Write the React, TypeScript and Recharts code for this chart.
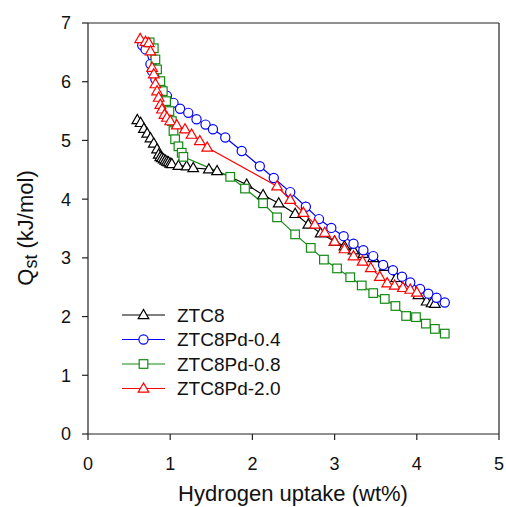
import { LineChart, Line, XAxis, YAxis, ReferenceLine, Legend } from "recharts";

const xTicks = [0, 1, 2, 3, 4, 5];
const yTicks = [0, 1, 2, 3, 4, 5, 6, 7];

const ztc8X = [0.6, 0.64, 0.68, 0.72, 0.76, 0.8, 0.84, 0.86, 0.88, 0.9, 0.92, 0.94, 0.96, 0.98, 1.0, 1.02, 1.1, 1.2, 1.28, 1.47, 1.57, 1.93, 2.13, 2.32, 2.52, 2.68, 2.83, 3.0, 3.12, 3.23, 3.35, 3.47, 3.61, 3.75, 3.88, 4.02, 4.12, 4.18, 4.22];
const ztc8Y = [5.35, 5.3, 5.2, 5.12, 5.04, 4.95, 4.85, 4.76, 4.72, 4.7, 4.68, 4.66, 4.64, 4.63, 4.61, 4.6, 4.57, 4.56, 4.53, 4.51, 4.48, 4.25, 4.07, 3.93, 3.75, 3.57, 3.42, 3.28, 3.2, 3.13, 3.07, 3.0, 2.85, 2.66, 2.51, 2.37, 2.26, 2.23, 2.22];

const pd04X = [0.66, 0.7, 0.76, 0.78, 0.82, 0.9, 0.96, 1.04, 1.12, 1.22, 1.32, 1.43, 1.52, 1.67, 1.87, 2.09, 2.26, 2.46, 2.65, 2.81, 2.96, 3.11, 3.23, 3.35, 3.47, 3.59, 3.71, 3.82, 3.92, 4.04, 4.14, 4.24, 4.34];
const pd04Y = [6.62, 6.55, 6.3, 6.18, 6.04, 5.87, 5.76, 5.64, 5.54, 5.47, 5.36, 5.27, 5.19, 5.05, 4.82, 4.56, 4.36, 4.12, 3.87, 3.66, 3.51, 3.37, 3.24, 3.13, 3.03, 2.88, 2.79, 2.68, 2.58, 2.47, 2.39, 2.32, 2.24];

const pd08X = [0.75, 0.8, 0.82, 0.84, 0.88, 0.91, 0.95, 0.99, 1.02, 1.04, 1.06, 1.1, 1.14, 1.16, 1.73, 1.91, 2.13, 2.3, 2.52, 2.71, 2.87, 3.03, 3.19, 3.33, 3.47, 3.61, 3.74, 3.87, 3.99, 4.11, 4.22, 4.34];
const pd08Y = [6.67, 6.57, 6.38, 6.21, 6.01, 5.84, 5.67, 5.5, 5.33, 5.16, 5.02, 4.9, 4.79, 4.72, 4.38, 4.18, 3.93, 3.69, 3.4, 3.17, 2.97, 2.82, 2.67, 2.53, 2.4, 2.3, 2.18, 2.01, 1.99, 1.88, 1.79, 1.71];

const pd20X = [0.635, 0.7, 0.74, 0.76, 0.78, 0.8, 0.82, 0.84, 0.86, 0.88, 0.9, 0.93, 0.96, 1.0, 1.08, 1.18, 1.26, 1.36, 1.45, 2.3, 2.46, 2.62, 2.76, 2.88, 3.0, 3.12, 3.23, 3.34, 3.44, 3.55, 3.64, 3.73, 3.83, 3.92, 4.0];
const pd20Y = [6.73, 6.68, 6.66, 6.52, 6.24, 6.13, 5.96, 5.84, 5.73, 5.61, 5.53, 5.44, 5.39, 5.33, 5.26, 5.19, 5.1, 4.99, 4.88, 4.22, 3.99, 3.77, 3.57, 3.43, 3.28, 3.15, 3.03, 2.94, 2.83, 2.68, 2.57, 2.53, 2.49, 2.46, 2.41];

const toPoints = (xs: number[], ys: number[]) => xs.map((x, i) => ({ x, y: ys[i] }));

type Shape = "triangle" | "circle" | "square";

const series: { name: string; color: string; shape: Shape; data: { x: number; y: number }[] }[] = [
  { name: "ZTC8", color: "#000000", shape: "triangle", data: toPoints(ztc8X, ztc8Y) },
  { name: "ZTC8Pd-0.4", color: "#0000ff", shape: "circle", data: toPoints(pd04X, pd04Y) },
  { name: "ZTC8Pd-0.8", color: "#138a13", shape: "square", data: toPoints(pd08X, pd08Y) },
  { name: "ZTC8Pd-2.0", color: "#ff0000", shape: "triangle", data: toPoints(pd20X, pd20Y) },
];

const FONT = "'Liberation Sans', Arial, sans-serif";
const AXIS = "#222";

function Marker({ cx, cy, shape, color }: { cx: number; cy: number; shape: Shape; color: string }) {
  if (shape === "circle") {
    return <circle cx={cx} cy={cy} r={4.6} fill="#fff" stroke={color} strokeWidth={1.2} />;
  }
  if (shape === "square") {
    return <rect x={cx - 4.3} y={cy - 4.3} width={8.6} height={8.6} fill="#fff" stroke={color} strokeWidth={1.2} />;
  }
  return (
    <polygon
      points={`${cx},${cy - 5.5} ${cx - 5.3},${cy + 3.7} ${cx + 5.3},${cy + 3.7}`}
      fill="#fff"
      stroke={color}
      strokeWidth={1.2}
    />
  );
}

const XTick = ({ x, payload }: any) => (
  <text x={x} y={470} textAnchor="middle" fontSize={18} fontFamily={FONT} fill="#111">
    {payload.value}
  </text>
);

const YTick = ({ y, payload }: any) => (
  <text x={71} y={y} dy={6.4} textAnchor="end" fontSize={18} fontFamily={FONT} fill="#111">
    {payload.value}
  </text>
);

const YLabel = () => (
  <text transform="rotate(-90, 33, 228)" x={33} y={228} textAnchor="middle" fontSize={22} fontFamily={FONT} fill="#111">
    <tspan>Q</tspan>
    <tspan fontSize={18} dy={4}>st</tspan>
    <tspan dy={-4}> (kJ/mol)</tspan>
  </text>
);

const XLabel = () => (
  <text x={293} y={501} textAnchor="middle" fontSize={22} fontFamily={FONT} fill="#111">
    Hydrogen uptake (wt%)
  </text>
);

const LegendBox = () => (
  <svg width={200} height={100} style={{ display: "block" }}>
    {series.map((s, i) => {
      const cy = 12 + i * 24.5;
      return (
        <g key={s.name}>
          <line x1={2} x2={45} y1={cy} y2={cy} stroke={s.color} strokeWidth={1.2} />
          <Marker cx={23.5} cy={cy} shape={s.shape} color={s.color} />
          <text x={57} y={cy + 6.5} fontSize={19} fontFamily={FONT} fill="#111">
            {s.name}
          </text>
        </g>
      );
    })}
  </svg>
);

export default function App() {
  return (
    <div style={{ position: "absolute", left: 0, top: 0, width: 506, height: 507, background: "#fff" }}>
      <LineChart width={506} height={507} margin={{ top: 23, right: 7, bottom: 0, left: 0 }}>
        <XAxis
          dataKey="x"
          type="number"
          domain={[0, 5]}
          ticks={xTicks}
          tickSize={6}
          stroke={AXIS}
          strokeWidth={1.2}
          height={73}
          tick={<XTick />}
          label={<XLabel />}
          allowDuplicatedCategory={false}
        />
        <YAxis
          dataKey="y"
          type="number"
          domain={[0, 7]}
          ticks={yTicks}
          tickSize={6}
          stroke={AXIS}
          strokeWidth={1.2}
          width={88}
          tick={<YTick />}
          label={<YLabel />}
        />
        <ReferenceLine y={7} stroke={AXIS} strokeWidth={1.2} />
        <ReferenceLine x={5} stroke={AXIS} strokeWidth={1.2} />
        {series.map((s) => (
          <Line
            key={s.name}
            data={s.data}
            dataKey="y"
            name={s.name}
            stroke={s.color}
            strokeWidth={1.2}
            isAnimationActive={false}
            dot={(p: any) => <Marker key={`${s.name}-${p.index}`} cx={p.cx} cy={p.cy} shape={s.shape} color={s.color} />}
            activeDot={false}
          />
        ))}
        <Legend
          layout="vertical"
          align="center"
          verticalAlign="middle"
          wrapperStyle={{ left: 120, top: 303, width: 200, height: 100 }}
          content={() => <LegendBox />}
        />
      </LineChart>
    </div>
  );
}
